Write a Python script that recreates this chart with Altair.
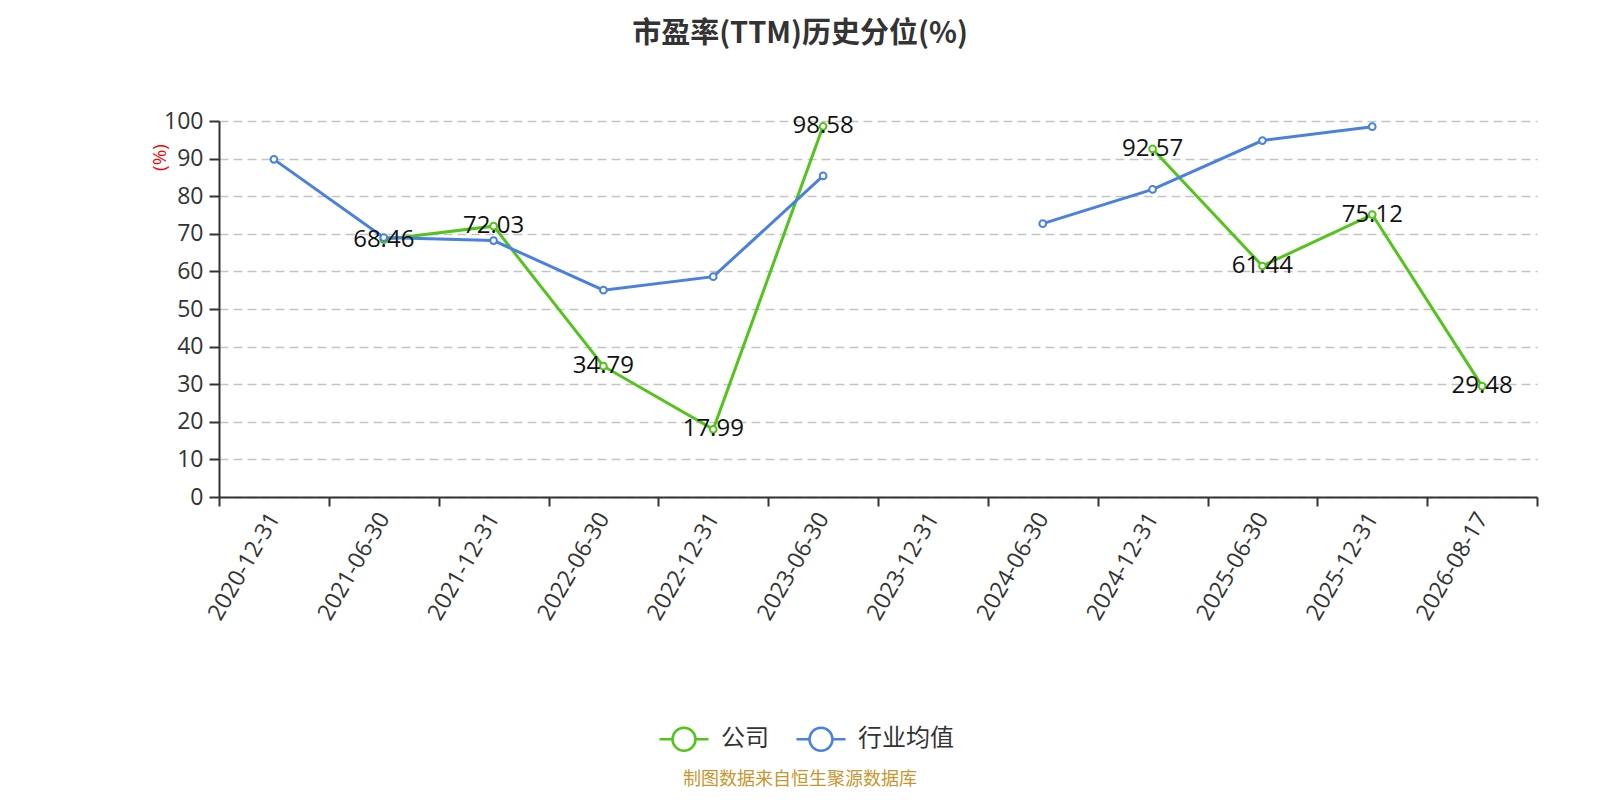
import altair as alt
import pandas as pd

# ---- data ----
dates = ["2020-12-31", "2021-06-30", "2021-12-31", "2022-06-30", "2022-12-31",
         "2023-06-30", "2023-12-31", "2024-06-30", "2024-12-31", "2025-06-30",
         "2025-12-31", "2026-08-17"]
company = [None, 68.46, 72.03, 34.79, 17.99, 98.58, None, None, 92.57, 61.44, 75.12, 29.48]
industry = [89.8, 69.0, 68.2, 55.0, 58.6, 85.4, None, 72.7, 81.8, 94.8, 98.5, None]
series_names = ["公司", "行业均值"]
series_colors = ["#52c41a", "#4a80e0"]
title_text = "市盈率(TTM)历史分位(%)"
source_text = "制图数据来自恒生聚源数据库"

df = pd.DataFrame({
    "date": dates + dates,
    "series": [series_names[0]] * len(dates) + [series_names[1]] * len(dates),
    "value": company + industry,
})

CJK = "Noto Sans CJK SC"
NUM = "Open Sans"

legend_path = ("M-1,0L-0.47,0M0.47,0L1,0M0.47,0A0.47,0.47,0,1,1,-0.47,0"
               "A0.47,0.47,0,1,1,0.47,0Z")

x_enc = alt.X(
    "date:N", sort=dates,
    scale=alt.Scale(type="band", paddingInner=0, paddingOuter=0),
    axis=alt.Axis(
        title=None, labelAngle=-60, labelAlign="right", labelBaseline="middle",
        labelFont=NUM, labelFontSize=23, labelColor="#333", labelPadding=8,
        tickBand="extent", tickSize=9, tickWidth=2, tickColor="#333",
        domainColor="#333", domainWidth=2, grid=False, labelOverlap=False,
    ),
)
y_enc = alt.Y(
    "value:Q",
    scale=alt.Scale(domain=[0, 100], nice=False),
    axis=alt.Axis(
        values=list(range(0, 101, 10)), title="(%)", titleColor="red",
        titleFont=NUM, titleFontSize=19, titleFontWeight="normal",
        titleX=-60, titleY=36, titleAlign="center", titleBaseline="middle",
        titleAngle=270,
        labelFont=NUM, labelFontSize=23, labelColor="#333", labelPadding=6,
        tickSize=10, tickWidth=2, tickColor="#333",
        domainColor="#333", domainWidth=2,
        grid=True, gridColor="#c4c4c4", gridDash=[9, 5], gridWidth=1.5,
    ),
)
color_enc = alt.Color(
    "series:N",
    scale=alt.Scale(domain=series_names, range=series_colors),
    legend=alt.Legend(
        title=None, orient="none", direction="horizontal",
        legendX=439, legendY=592,
        symbolType=legend_path, symbolSize=2401, symbolStrokeWidth=2.5,
        symbolFillColor="white",
        labelFont=CJK, labelFontSize=24, labelColor="#333",
        labelOffset=11, columnPadding=22,
    ),
)

base = alt.Chart(df).encode(x=x_enc, y=y_enc, color=color_enc)

layers = []
for name in series_names:
    sub = base.transform_filter(alt.datum.series == name)
    layers.append(sub.mark_line(strokeWidth=3, invalid="break-paths-show-domains"))
    layers.append(
        sub.transform_filter("isValid(datum.value)").mark_point(
            filled=False, fill="white", size=45, strokeWidth=2, opacity=1
        )
    )

labels = base.transform_filter(
    (alt.datum.series == series_names[0])
).transform_filter("isValid(datum.value)").mark_text(
    font=NUM, fontSize=24, baseline="middle", align="center"
).encode(text=alt.Text("value:Q", format=".2f"), color=alt.value("#111"))

title_layer = alt.Chart(pd.DataFrame({"t": [title_text]})).mark_text(
    font=CJK, fontSize=29, fontWeight="bold", color="#333",
    align="center", baseline="alphabetic",
).encode(x=alt.value(581), y=alt.value(-78), text="t:N")

source_layer = alt.Chart(pd.DataFrame({"t": [source_text]})).mark_text(
    font=CJK, fontSize=18, color="#c8962e", align="center", baseline="middle",
).encode(x=alt.value(581), y=alt.value(659), text="t:N")

chart = alt.layer(*layers, labels, title_layer, source_layer).properties(
    width=1318, height=376,
    background="white",
    autosize=alt.AutoSizeParams(type="none"),
    padding={"left": 211, "top": 113, "right": 55, "bottom": 295},
).configure_view(stroke=None)

chart.save("out.html", embed_options={"renderer": "svg", "actions": False})
